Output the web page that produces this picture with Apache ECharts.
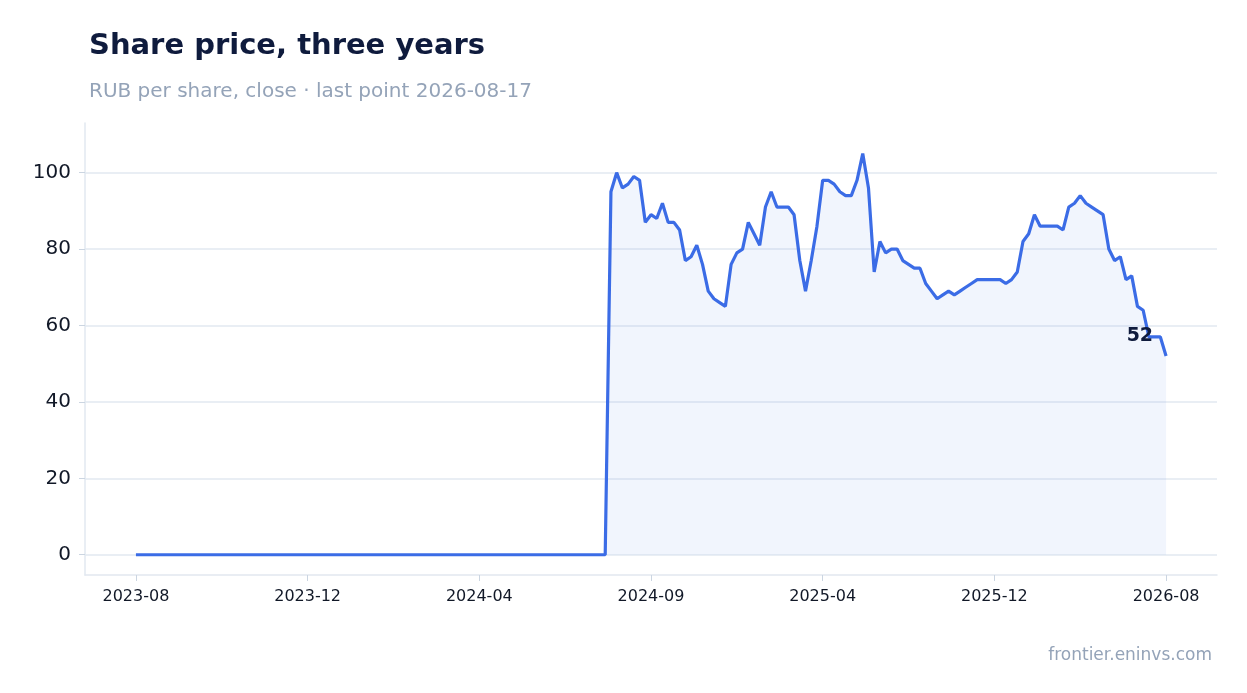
<!DOCTYPE html>
<html><head><meta charset="utf-8">
<script src="https://cdn.jsdelivr.net/npm/echarts@6/dist/echarts.min.js"></script>
<style>html,body{margin:0;background:#fff}#c{width:1247px;height:693px}</style>
</head><body><div id="c"></div>
<script>
const tickLabels = ['2023-08','2023-12','2024-04','2024-09','2025-04','2025-12','2026-08'];
const tickIndex = [0,30,60,90,120,150,180];
const zeroCount = 83;
const prices = [95,100,96,97,99,98,87,89,88,92,
87,87,85,77,78,81,76,69,67,66,
65,76,79,80,87,84,81,91,95,91,
91,91,89,77,69,77,86,98,98,97,
95,94,94,98,105,96,74,82,79,80,
80,77,76,75,75,71,69,67,68,69,
68,69,70,71,72,72,72,72,72,71,
72,74,82,84,89,86,86,86,86,85,
91,92,94,92,91,90,89,80,77,78,
72,73,65,64,57,57,57,52];
const values = new Array(zeroCount).fill(0).concat(prices);
const data = values.map((v,i)=>[i,v]);
const last = data.length-1;
const chart = echarts.init(document.getElementById('c'));
chart.setOption({
  animation:false,
  title:[
    {text:'Share price, three years',left:84,top:27,textStyle:{fontFamily:'DejaVu Sans',fontSize:29,fontWeight:'bold',color:'#0f1b3d'}},
    {text:'RUB per share, close · last point 2026-08-17',left:84,top:77,textStyle:{fontFamily:'DejaVu Sans',fontSize:20,fontWeight:'normal',color:'#94a3b8'}},
    {text:'frontier.eninvs.com',right:30,top:642,textStyle:{fontFamily:'DejaVu Sans',fontSize:17,fontWeight:'normal',color:'#94a3b8'}}
  ],
  grid:{left:85,right:30,top:123,bottom:118},
  xAxis:{type:'value',min:-8.9,max:188.9,
    axisLine:{show:true,onZero:false,lineStyle:{color:'#e2e8f0',width:1.5}},
    axisTick:{show:true,customValues:tickIndex,length:6,lineStyle:{color:'#cbd5e1'}},
    splitLine:{show:false},
    axisLabel:{customValues:tickIndex,fontFamily:'DejaVu Sans',fontSize:16,color:'#111827',margin:14,
      formatter:v=>tickLabels[tickIndex.indexOf(Math.round(v))]||''}},
  yAxis:{type:'value',min:-5.3,max:113,
    axisLine:{show:true,onZero:false,lineStyle:{color:'#e2e8f0',width:1.5}},
    axisTick:{show:true,customValues:[0,20,40,60,80,100],length:6,lineStyle:{color:'#cbd5e1'}},
    axisLabel:{customValues:[0,20,40,60,80,100],fontFamily:'DejaVu Sans',fontSize:20,color:'#111827',margin:14},
    splitLine:{show:true,lineStyle:{color:'#e2e8f0',width:1.5}}},
  series:[{type:'line',data:data,symbol:'none',smooth:false,
    lineStyle:{color:'#3b6ce6',width:3.2},
    areaStyle:{color:'rgba(59,108,230,0.1)'},
    markPoint:{symbol:'circle',symbolSize:0,data:[{coord:[last,values[last]],value:values[last]}],
      label:{show:true,position:'left',offset:[-8,-20],formatter:'52',fontFamily:'DejaVu Sans',fontWeight:'bold',fontSize:19,color:'#0f1b3d'}}
  }]
});
</script></body></html>
